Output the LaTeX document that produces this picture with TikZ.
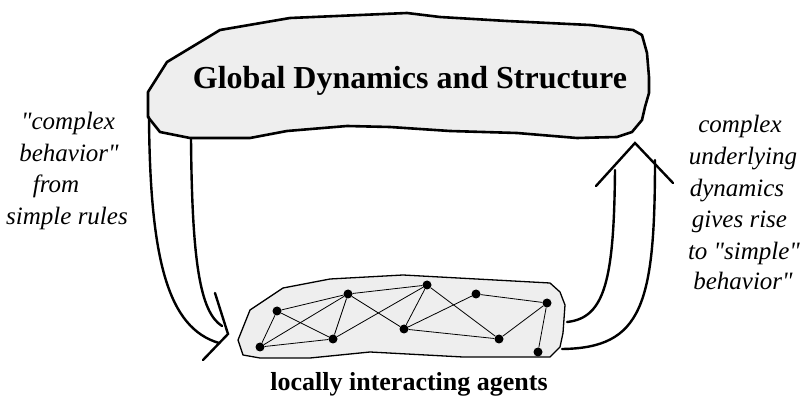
\documentclass[tikz,border=0pt]{standalone}
\usepackage{fontspec}
\setmainfont{Liberation Serif}[Ligatures=TeXOff]
\definecolor{blobgray}{HTML}{EEEEEE}
\begin{document}
\begin{tikzpicture}[x=1pt,y=-1pt,
  blob/.style={draw=black, fill=blobgray, line width=2.6pt, line join=round},
  agentblob/.style={draw=black, fill=blobgray, line width=1.3pt, line join=round},
  flow/.style={line width=2.4pt, line cap=round},
  agent/.style={circle, fill=black, inner sep=0pt, minimum size=9pt},
  link/.style={line width=0.8pt},
  sidetext/.style={font=\itshape\fontsize{25}{30}\selectfont, inner sep=0pt, anchor=base},
  titletext/.style={font=\bfseries\fontsize{32}{36}\selectfont, inner sep=0pt, anchor=base},
  bottomtext/.style={font=\bfseries\fontsize{26}{30}\selectfont, inner sep=0pt, anchor=base}]
\useasboundingbox (0,0) rectangle (804,398);

% upper blob: global level
\draw[blob] (148,92) -- (167,62) -- (220,30) -- (290,18) -- (407,13) -- (440,17)
  -- (507,21) -- (590,25) -- (633,30) -- (642,35) -- (647,53) -- (649,77)
  -- (649,93) -- (645,107) -- (642,120) -- (632,132) -- (617,137)
  -- (577,138) -- (517,133) -- (450,131) -- (390,127) -- (347,126)
  -- (287,131) -- (250,138) -- (190,138) -- (160,132) -- (148,117) -- cycle;
\node[titletext] (title) at (410,89) {Global Dynamics and Structure};

% lower blob: agent level
\draw[agentblob] (238,340) -- (250,310) -- (283,288) -- (330,279) -- (403,275)
  -- (550,283) -- (560,292) -- (565,305) -- (563,333) -- (560,347) -- (550,357)
  -- (463,357) -- (370,352) -- (310,358) -- (260,358) -- (243,355) -- cycle;

% agents
\node[agent] (a1) at (277,311) {};
\node[agent] (a2) at (348,294) {};
\node[agent] (a3) at (427,285) {};
\node[agent] (a4) at (476,294) {};
\node[agent] (a5) at (547,303) {};
\node[agent] (a6) at (260,347) {};
\node[agent] (a7) at (333,339) {};
\node[agent] (a8) at (404,329) {};
\node[agent] (a9) at (499,339) {};
\node[agent] (a10) at (538,352) {};

% interactions
\draw[link] (a1) -- (a2);
\draw[link] (a1) -- (a7);
\draw[link] (a1) -- (a6);
\draw[link] (a6) -- (a2);
\draw[link] (a6) -- (a7);
\draw[link] (a7) -- (a2);
\draw[link] (a2) -- (a3);
\draw[link] (a2) -- (a8);
\draw[link] (a7) -- (a3);
\draw[link] (a3) -- (a8);
\draw[link] (a3) -- (a9);
\draw[link] (a8) -- (a4);
\draw[link] (a8) -- (a9);
\draw[link] (a4) -- (a5);
\draw[link] (a5) -- (a9);
\draw[link] (a5) -- (a10);

\node[bottomtext] (agentslabel) at (409,390) {locally interacting agents};

% downward arrow (left)
\coordinate (ltip) at (228,334);
\draw[flow] (149,117) .. controls (150,260) and (168,328) .. (219,343);
\draw[flow] (191,138) .. controls (192,262) and (200,312) .. (222,326);
\draw[flow] (215,293) -- (ltip) -- (203,360);

% upward arrow (right)
\coordinate (rtip) at (635,143);
\draw[flow] (562,349) .. controls (642,348) and (655,305) .. (655,160);
\draw[flow] (567,322) .. controls (605,318) and (614,280) .. (615,170);
\draw[flow] (596,186) -- (rtip) -- (673,183);

% side annotations
\node[sidetext] (l1) at (68,130) {"complex};
\node[sidetext] (l2) at (69,162) {behavior"};
\node[sidetext] (l3) at (56,193) {from};
\node[sidetext] (l4) at (67,225) {simple rules};

\node[sidetext] (r1) at (740,133) {complex};
\node[sidetext] (r2) at (743,165) {underlying};
\node[sidetext] (r3) at (737,197) {dynamics};
\node[sidetext] (r4) at (739.5,228) {gives rise};
\node[sidetext] (r5) at (744,260) {to "simple"};
\node[sidetext] (r6) at (743,290) {behavior"};
\end{tikzpicture}
\end{document}
